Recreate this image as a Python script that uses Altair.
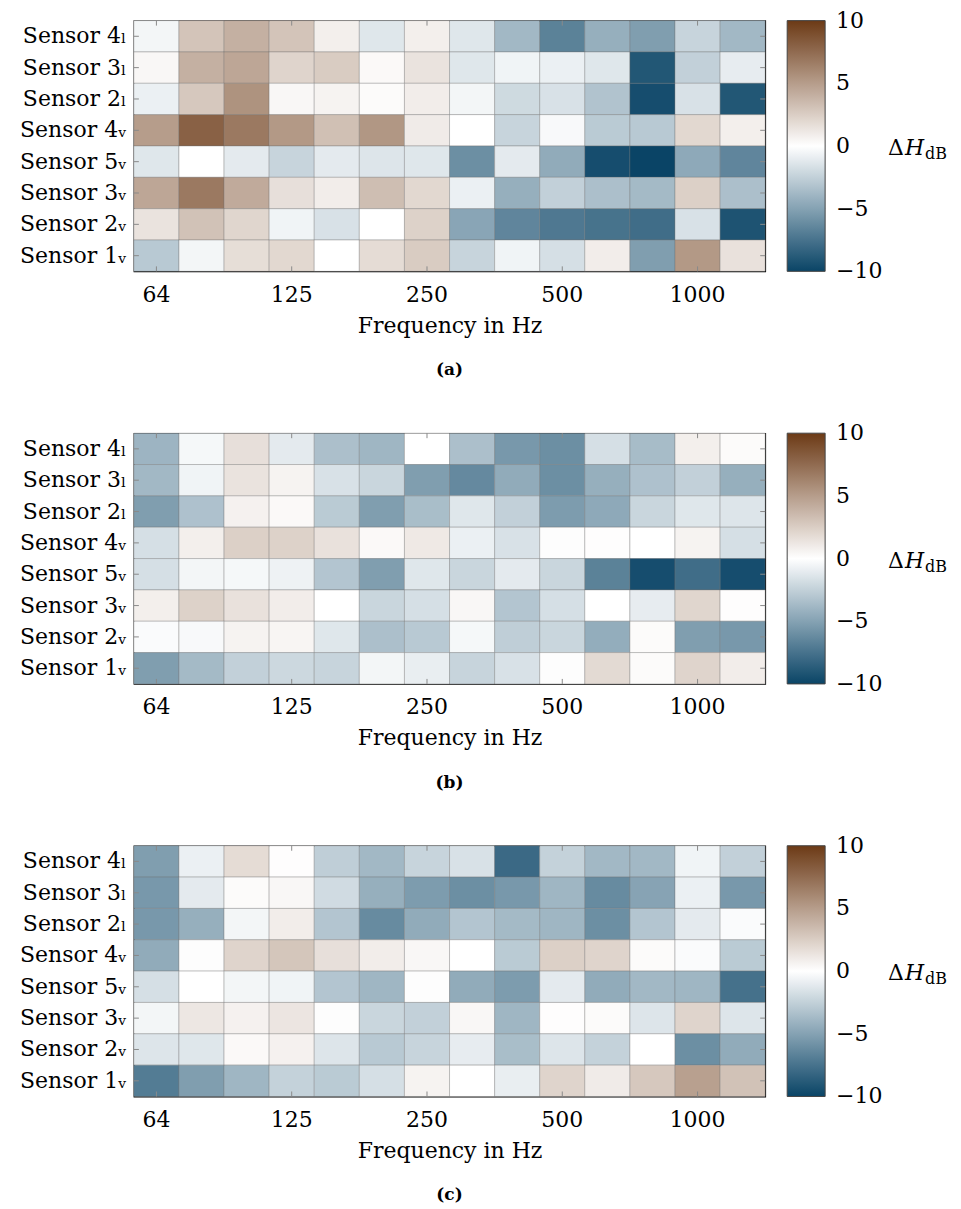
import altair as alt
import pandas as pd

freqs = ["64", "80", "100", "125", "160", "200", "250", "315", "400", "500", "630", "800", "1000", "1250"]
tick_freqs = ["64", "125", "250", "500", "1000"]
sensors = ["Sensor 4ₗ", "Sensor 3ₗ", "Sensor 2ₗ", "Sensor 4ᵥ", "Sensor 5ᵥ", "Sensor 3ᵥ", "Sensor 2ᵥ", "Sensor 1ᵥ"]

# Panel (a): rows in the order of `sensors`, columns in the order of `freqs`
a_rows = [
    [-0.5, 3.0, 4.0, 3.0, 0.8, -1.3, 0.8, -1.3, -3.8, -6.7, -4.3, -5.2, -2.3, -3.8],
    [0.4, 4.0, 4.5, 2.2, 2.6, 0.3, 1.4, -1.3, -0.6, -0.8, -1.3, -9.0, -2.5, -1.0],
    [-0.8, 2.8, 5.5, 0.4, 0.6, 0.2, 0.9, -0.5, -2.0, -1.6, -3.2, -9.5, -1.6, -9.0],
    [5.0, 8.0, 6.8, 5.2, 3.2, 5.3, 1.0, 0.0, -2.3, -0.3, -2.8, -2.9, 2.0, 0.8],
    [-1.3, 0.0, -1.1, -2.3, -1.1, -1.4, -1.3, -6.0, -1.1, -4.5, -9.5, -10.0, -4.6, -6.5],
    [4.5, 6.8, 4.3, 1.6, 0.9, 3.3, 2.0, -0.8, -4.3, -2.5, -3.4, -3.7, 2.4, -3.4],
    [1.4, 3.1, 2.1, -0.6, -1.6, 0.0, 2.3, -4.8, -6.5, -7.2, -7.5, -7.8, -1.6, -9.2],
    [-2.9, -0.5, 1.7, 2.0, 0.0, 1.8, 2.6, -2.3, -0.6, -1.7, 0.9, -5.2, 5.2, 1.5],
]

# Panel (b)
b_rows = [
    [-4.0, -0.4, 1.6, -1.1, -3.4, -3.9, 0.0, -3.4, -5.5, -6.0, -1.7, -3.6, 0.8, 0.2],
    [-3.8, -0.6, 1.4, 0.6, -1.6, -2.2, -5.2, -6.3, -4.5, -6.0, -4.3, -3.3, -2.5, -4.3],
    [-5.2, -3.3, 0.7, 0.3, -2.8, -5.2, -3.5, -1.3, -2.5, -5.3, -4.6, -2.2, -1.3, -1.4],
    [-1.7, 0.8, 2.4, 2.3, 1.5, 0.3, 1.1, -0.8, -1.6, -0.1, 0.1, 0.0, 0.6, -1.7],
    [-1.7, -0.5, -0.4, -0.7, -3.1, -5.2, -1.3, -2.2, -1.1, -2.2, -6.7, -9.5, -7.8, -9.5],
    [0.8, 2.3, 1.5, 0.9, 0.0, -2.2, -1.7, 0.4, -3.1, -1.7, 0.0, -1.0, 2.1, 0.1],
    [-0.2, -0.3, 0.6, 0.5, -1.3, -3.4, -2.9, -0.4, -2.6, -2.2, -4.4, 0.2, -5.2, -5.5],
    [-5.2, -3.7, -2.5, -2.1, -2.3, -0.5, -0.9, -2.3, -1.6, -0.1, 1.9, 0.2, 2.2, 0.9],
]

# Panel (c)
c_rows = [
    [-5.2, -0.8, 1.8, 0.1, -2.6, -3.8, -2.3, -1.6, -8.0, -2.4, -3.8, -3.8, -0.6, -2.5],
    [-5.5, -1.1, 0.2, 0.4, -1.9, -4.3, -5.3, -6.0, -5.5, -3.9, -6.2, -4.9, -0.8, -5.5],
    [-5.5, -4.3, -0.5, 0.9, -3.1, -6.2, -4.5, -3.1, -3.7, -3.9, -6.0, -3.1, -1.1, -0.2],
    [-4.5, -0.1, 2.2, 2.9, 1.6, 0.9, 0.4, 0.0, -2.8, 2.4, 2.2, 0.2, -0.2, -2.8],
    [-1.7, 0.0, -0.5, -0.6, -3.1, -3.9, -0.1, -4.5, -5.3, -1.1, -4.5, -3.8, -3.9, -7.6],
    [-0.5, 1.2, 0.7, 1.3, -0.1, -2.2, -2.5, 0.4, -3.9, 0.1, 0.2, -1.4, 2.2, -1.4],
    [-1.4, -1.3, 0.3, 0.7, -1.4, -2.9, -2.3, -1.0, -3.5, -1.4, -2.4, 0.0, -6.0, -4.5],
    [-7.0, -5.2, -3.9, -2.4, -2.8, -1.7, 0.6, 0.0, -0.9, 2.2, 1.0, 2.8, 4.8, 3.1],
]

captions = ["(a)", "(b)", "(c)"]
legend_values = [-10, -5, 0, 5, 10]
legend_ticks = [-5, 0, 5]
cmap_domain = [-10, 0, 10]
cmap_range = ["#0a4466", "#ffffff", "#6c3a16"]

W, H = 632, 251
FONT = "'DejaVu Serif', 'Liberation Serif', serif"
FS = 22
LEG_OFF = 22
LEG_TH = 38


def panel(rows, caption):
    df = pd.DataFrame(
        [{"sensor": s, "freq": f, "value": v}
         for s, row in zip(sensors, rows) for f, v in zip(freqs, row)]
    )
    xscale = alt.Scale(domain=freqs, paddingInner=0, paddingOuter=0)
    yscale = alt.Scale(domain=sensors, paddingInner=0, paddingOuter=0)
    vscale = alt.Scale(domain=[-10, 10], nice=False, zero=False)

    heat = alt.Chart(df).mark_rect(
        stroke="#6f6f6f", strokeOpacity=0.35, strokeWidth=1
    ).encode(
        x=alt.X("freq:O", scale=xscale,
                axis=alt.Axis(values=tick_freqs, ticks=False, domain=False, labelAngle=0,
                              labelFont=FONT, labelFontSize=FS, labelColor="black",
                              labelPadding=13, title="Frequency in Hz", titleFont=FONT,
                              titleFontSize=FS, titleFontWeight="normal", titleColor="black",
                              titlePadding=10)),
        y=alt.Y("sensor:O", scale=yscale,
                axis=alt.Axis(ticks=False, domain=False, labelFont=FONT, labelFontSize=FS,
                              labelColor="black", labelPadding=8, title=None)),
        color=alt.Color("value:Q",
                        scale=alt.Scale(domain=cmap_domain, range=cmap_range, interpolate="rgb",
                                        nice=False),
                        legend=alt.Legend(title=None, values=legend_values, direction="vertical",
                                          gradientLength=H, gradientThickness=LEG_TH,
                                          gradientStrokeColor="#444444", gradientStrokeWidth=1,
                                          labelExpr="''", labelFontSize=1,
                                          offset=LEG_OFF, padding=0)),
    )

    xt = pd.DataFrame({"freq": tick_freqs})
    yt = pd.DataFrame({"sensor": sensors})
    tick_style = dict(color="#8a8a8a", strokeWidth=1)
    top = alt.Chart(xt).mark_rule(**tick_style).encode(
        x=alt.X("freq:O", scale=xscale), y=alt.value(0), y2=alt.value(5))
    bottom = alt.Chart(xt).mark_rule(**tick_style).encode(
        x=alt.X("freq:O", scale=xscale), y=alt.value(H - 5), y2=alt.value(H))
    left = alt.Chart(yt).mark_rule(**tick_style).encode(
        y=alt.Y("sensor:O", scale=yscale, axis=None), x=alt.value(0), x2=alt.value(5))
    right = alt.Chart(yt).mark_rule(**tick_style).encode(
        y=alt.Y("sensor:O", scale=yscale, axis=None), x=alt.value(W - 5), x2=alt.value(W))

    # colour-bar labels and ticks, placed with their own value scale
    lv = pd.DataFrame({"v": legend_values})
    lt = pd.DataFrame({"v": legend_ticks})
    leg_labels = alt.Chart(lv).mark_text(font=FONT, fontSize=FS, align="left",
                                         baseline="middle", color="black").encode(
        y=alt.Y("v:Q", scale=vscale, axis=None), text=alt.Text("v:Q", format="d"),
        x=alt.value(W + LEG_OFF + LEG_TH + 11))
    leg_t1 = alt.Chart(lt).mark_rule(color="#8a8a8a", strokeWidth=1).encode(
        y=alt.Y("v:Q", scale=vscale, axis=None),
        x=alt.value(W + LEG_OFF), x2=alt.value(W + LEG_OFF + 5))
    leg_t2 = alt.Chart(lt).mark_rule(color="#8a8a8a", strokeWidth=1).encode(
        y=alt.Y("v:Q", scale=vscale, axis=None),
        x=alt.value(W + LEG_OFF + LEG_TH - 5), x2=alt.value(W + LEG_OFF + LEG_TH))

    delta = pd.DataFrame({"t": ["Δ"]})
    hsym = pd.DataFrame({"t": ["H"]})
    sub = pd.DataFrame({"t": ["dB"]})
    t0 = alt.Chart(delta).mark_text(font=FONT, fontSize=FS, align="left",
                                    baseline="alphabetic", color="black").encode(
        text="t:N", x=alt.value(W + 123), y=alt.value(H / 2 + 9))
    t1 = alt.Chart(hsym).mark_text(font=FONT, fontSize=FS, fontStyle="italic", align="left",
                                   baseline="alphabetic", color="black").encode(
        text="t:N", x=alt.value(W + 140), y=alt.value(H / 2 + 9))
    t2 = alt.Chart(sub).mark_text(font=FONT, fontSize=16, align="left",
                                  baseline="alphabetic", color="black").encode(
        text="t:N", x=alt.value(W + 160), y=alt.value(H / 2 + 13))

    return alt.layer(
        heat, top, bottom, left, right, leg_labels, leg_t1, leg_t2, t0, t1, t2
    ).resolve_scale(y="independent").properties(
        width=W, height=H,
        title=alt.TitleParams(caption, orient="bottom", anchor="middle", font=FONT,
                              fontSize=17, fontWeight="bold", color="black", offset=26),
    )


chart = alt.vconcat(
    *[panel(r, c) for r, c in zip([a_rows, b_rows, c_rows], captions)],
    spacing=42,
).resolve_scale(color="independent").configure_view(
    stroke="black", strokeWidth=1.2
).properties(padding={"left": 10, "top": 0, "right": 5, "bottom": 5})

chart.save("out.html", embed_options={"renderer": "svg", "actions": False})
